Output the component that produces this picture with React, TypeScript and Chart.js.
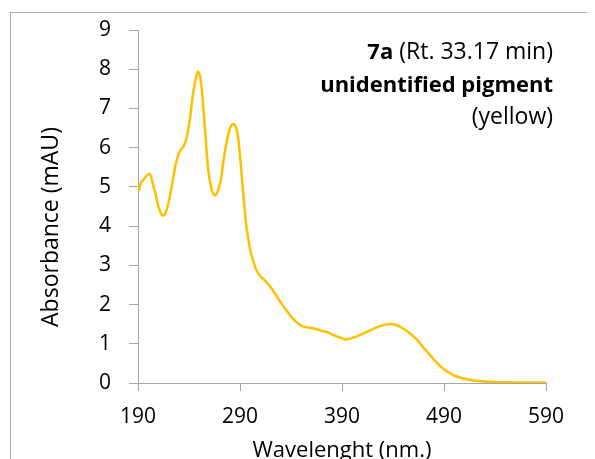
import React, { useEffect, useRef } from "react";
import { Chart, registerables } from "chart.js";

Chart.register(...registerables);

const wavelengths = [
  190, 191, 193, 196, 199, 201, 203, 205, 207, 210, 213, 215, 217, 220, 223, 226, 229, 232, 235, 238,
  241, 244, 247, 249, 251, 253, 255, 257, 259, 262, 264, 266, 268, 271, 274, 277, 280, 282, 284, 286,
  288, 290, 292, 294, 296, 298, 300, 303, 306, 310, 315, 320, 325, 330, 335, 340, 345, 350, 355, 360,
  365, 370, 375, 380, 385, 390, 393, 397, 400, 405, 410, 415, 420, 425, 430, 435, 440, 445, 450, 455,
  460, 465, 470, 475, 480, 485, 490, 495, 500, 510, 520, 530, 545, 560, 575, 591,
];

const absorbance = [
  5.05, 4.92, 5.12, 5.2, 5.3, 5.33, 5.25, 5.02, 4.85, 4.5, 4.3, 4.27, 4.33, 4.6, 5.0, 5.45, 5.78, 5.95, 6.05, 6.3,
  6.75, 7.38, 7.8, 7.94, 7.8, 7.35, 6.7, 6.0, 5.4, 4.95, 4.82, 4.79, 4.88, 5.15, 5.7, 6.15, 6.48, 6.58, 6.6, 6.52,
  6.3, 5.8, 5.2, 4.6, 4.05, 3.7, 3.4, 3.1, 2.88, 2.72, 2.6, 2.45, 2.25, 2.05, 1.87, 1.7, 1.56, 1.46, 1.42, 1.4,
  1.37, 1.33, 1.3, 1.24, 1.19, 1.14, 1.11, 1.12, 1.15, 1.19, 1.25, 1.31, 1.37, 1.43, 1.47, 1.5, 1.5, 1.46, 1.39, 1.3,
  1.19, 1.06, 0.9, 0.75, 0.6, 0.46, 0.35, 0.26, 0.19, 0.11, 0.06, 0.04, 0.02, 0.015, 0.01, 0.01,
];

const xTickValues = [190, 290, 390, 490, 590];
const yTickValues = [0, 1, 2, 3, 4, 5, 6, 7, 8, 9];

const xTitle = "Wavelenght (nm.)";
const yTitle = "Absorbance (mAU)";
const noteBold = "7a";
const noteRest = " (Rt. 33.17 min)";
const noteLine2 = "unidentified pigment";
const noteLine3 = "(yellow)";

const FONT = "'Open Sans', 'DejaVu Sans', sans-serif";
const AXIS_GRAY = "#A6A6A6";

export default function App() {
  const ref = useRef<HTMLCanvasElement>(null);

  useEffect(() => {
    const canvas = ref.current;
    if (!canvas) return;

    const textPlugin = {
      id: "textPlugin",
      beforeDraw(chart: any) {
        const ctx = chart.ctx;
        ctx.save();
        ctx.strokeStyle = "#ADADAD";
        ctx.lineWidth = 1;
        ctx.strokeRect(2.5, 4.5, 700, 700);
        ctx.restore();
      },
      afterDraw(chart: any) {
        const ctx = chart.ctx;
        const area = chart.chartArea;
        ctx.save();
        ctx.fillStyle = "#000";
        // x title
        ctx.font = `22px ${FONT}`;
        ctx.textAlign = "center";
        ctx.textBaseline = "alphabetic";
        ctx.fillText(xTitle, (area.left + area.right) / 2, 449);
        // y title
        ctx.font = `23px ${FONT}`;
        ctx.save();
        ctx.translate(49.5, 219);
        ctx.rotate(-Math.PI / 2);
        ctx.fillText(yTitle, 0, 0);
        ctx.restore();
        // annotation
        const rightX = 545;
        ctx.textAlign = "right";
        ctx.font = `23px ${FONT}`;
        ctx.fillText(noteRest, rightX, 51);
        const restW = ctx.measureText(noteRest).width;
        ctx.font = `bold 22px ${FONT}`;
        ctx.fillText(noteBold, rightX - restW, 51);
        ctx.fillText(noteLine2, rightX, 83.5);
        ctx.font = `23px ${FONT}`;
        ctx.fillText(noteLine3, rightX, 116);
        ctx.restore();
      },
    };

    const chart = new Chart(canvas, {
      type: "line",
      data: {
        datasets: [
          {
            data: wavelengths.map((x, i) => ({ x, y: absorbance[i] })),
            borderColor: "#FFC000",
            backgroundColor: "#FFC000",
            borderWidth: 2.5,
            pointRadius: 0,
            tension: 0.3,
            fill: false,
          },
        ],
      },
      options: {
        responsive: false,
        animation: false,
        devicePixelRatio: 1,
        layout: { padding: { left: 0, right: 49, top: 22, bottom: 0 } },
        plugins: { legend: { display: false }, tooltip: { enabled: false }, title: { display: false } },
        scales: {
          x: {
            type: "linear",
            min: 190,
            max: 590,
            afterBuildTicks: (s: any) => {
              s.ticks = xTickValues.map((v) => ({ value: v }));
            },
            afterFit: (s: any) => {
              s.height = 76;
            },
            grid: { drawOnChartArea: false, drawTicks: true, tickLength: 8, color: AXIS_GRAY },
            border: { display: true, color: AXIS_GRAY, width: 1 },
            ticks: { font: { family: FONT, size: 21 }, color: "#000", padding: 13, maxRotation: 0, autoSkip: false },
          },
          y: {
            type: "linear",
            min: 0,
            max: 9,
            afterBuildTicks: (s: any) => {
              s.ticks = yTickValues.map((v) => ({ value: v }));
            },
            afterFit: (s: any) => {
              s.width = 130;
              s.paddingTop = 0;
              s.paddingBottom = 0;
            },
            grid: { drawOnChartArea: false, drawTicks: true, tickLength: 9, color: AXIS_GRAY },
            border: { display: true, color: AXIS_GRAY, width: 1 },
            ticks: { font: { family: FONT, size: 21 }, color: "#000", padding: 18, autoSkip: false },
          },
        },
      },
      plugins: [textPlugin],
    } as any);

    return () => chart.destroy();
  }, []);

  return <canvas ref={ref} width={587} height={451} style={{ display: "block" }} />;
}
